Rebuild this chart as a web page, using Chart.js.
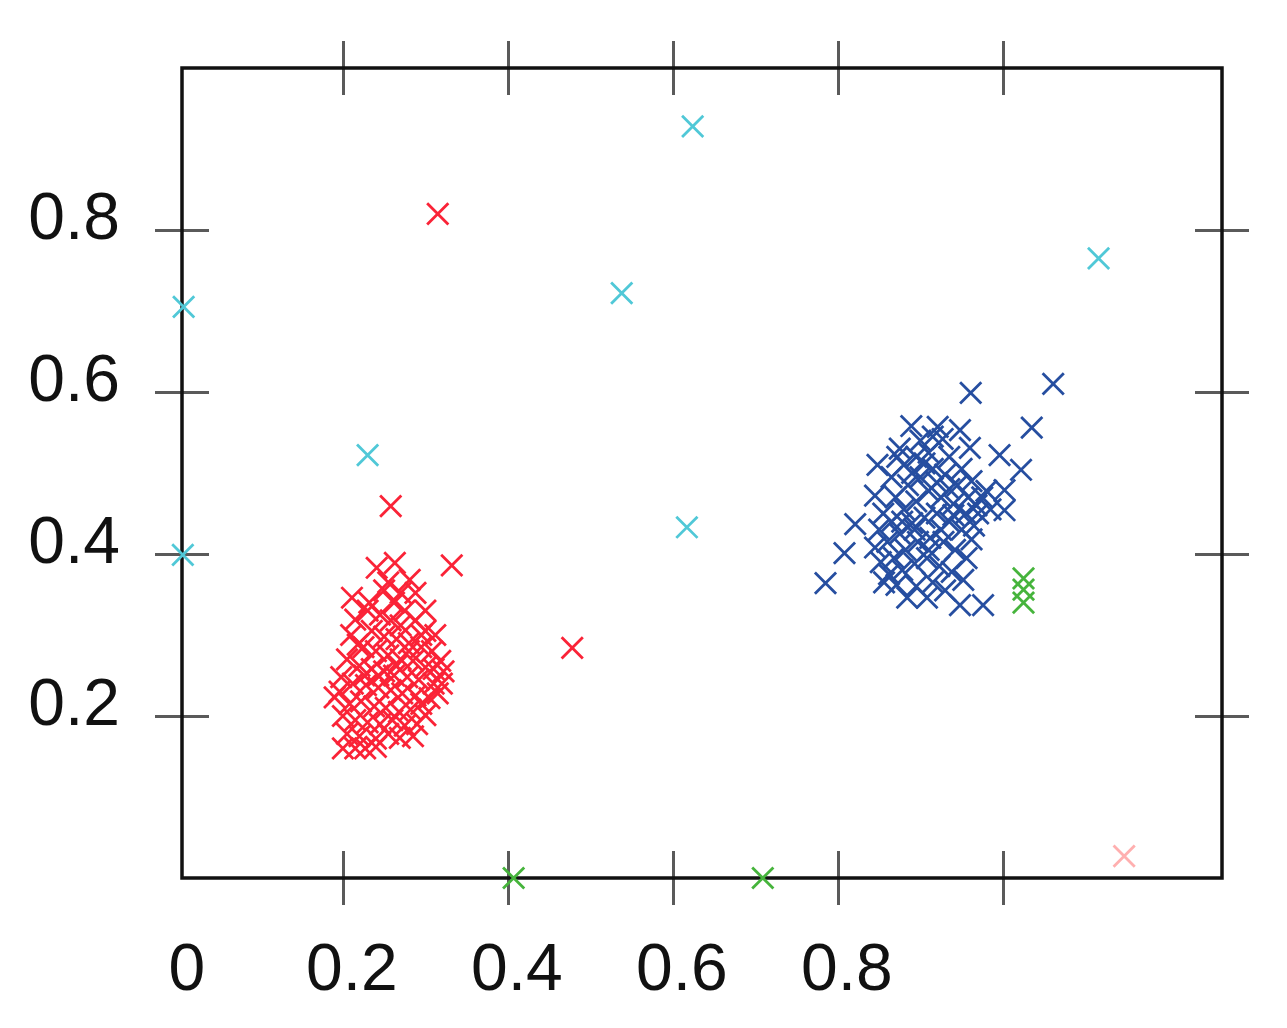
<!DOCTYPE html>
<html>
<head>
<meta charset="utf-8">
<script src="https://cdn.jsdelivr.net/npm/chart.js@4.4.1/dist/chart.umd.min.js"></script>
<style>
html,body{margin:0;padding:0;background:#fff;}
#wrap{width:1287px;height:1028px;}
</style>
</head>
<body>
<div id="wrap"><canvas id="c" width="1287" height="1028"></canvas></div>
<script>
// ---- data ----
const redPoints = [
[0.315,0.820],[0.258,0.459],[0.332,0.386],[0.478,0.284],
[0.211,0.346],[0.241,0.383],[0.263,0.389],[0.281,0.368],[0.215,0.319],[0.218,0.288],
[0.200,0.160],[0.227,0.160],[0.269,0.173],[0.190,0.223],[0.300,0.201],[0.232,0.340],
[0.250,0.355],[0.262,0.340],[0.275,0.330],[0.245,0.325],[0.258,0.318],[0.270,0.312],
[0.288,0.318],[0.300,0.305],[0.312,0.300],[0.235,0.305],[0.250,0.298],[0.265,0.295],
[0.280,0.290],[0.295,0.285],[0.308,0.280],[0.318,0.268],[0.225,0.285],[0.240,0.280],
[0.255,0.275],[0.270,0.270],[0.285,0.268],[0.300,0.260],[0.322,0.255],[0.205,0.270],
[0.220,0.262],[0.235,0.258],[0.250,0.255],[0.262,0.250],[0.278,0.248],[0.292,0.245],
[0.310,0.240],[0.198,0.248],[0.212,0.240],[0.228,0.238],[0.243,0.235],[0.258,0.232],
[0.272,0.228],[0.288,0.225],[0.305,0.222],[0.196,0.230],[0.208,0.215],[0.222,0.218],
[0.238,0.212],[0.252,0.210],[0.268,0.205],[0.282,0.208],[0.295,0.215],[0.315,0.228],
[0.200,0.200],[0.215,0.195],[0.230,0.192],[0.245,0.190],[0.260,0.195],[0.275,0.188],
[0.290,0.190],[0.205,0.178],[0.220,0.175],[0.240,0.172],[0.255,0.178],[0.285,0.175],
[0.215,0.160],[0.240,0.162],[0.230,0.330],[0.255,0.365],[0.270,0.352],[0.243,0.250],
[0.265,0.262],[0.280,0.280],[0.295,0.300],[0.310,0.258],[0.320,0.240],[0.226,0.250],
[0.210,0.300],[0.300,0.330],[0.288,0.352]
];
const bluePoints = [
[0.785,0.364],[0.808,0.401],[0.821,0.437],[0.961,0.599],[1.061,0.610],[1.035,0.556],
[1.022,0.504],[0.996,0.522],[1.002,0.479],[1.002,0.454],[0.948,0.337],[0.976,0.337],
[0.848,0.510],[0.845,0.472],[0.889,0.558],[0.921,0.557],[0.856,0.365],[0.884,0.346],
[0.908,0.346],[0.871,0.362],[0.948,0.553],[0.960,0.531],[0.970,0.450],[0.927,0.542],
[0.900,0.540],[0.875,0.530],[0.865,0.495],[0.880,0.510],[0.895,0.520],[0.910,0.525],
[0.935,0.520],[0.950,0.505],[0.962,0.490],[0.975,0.470],[0.985,0.455],[0.855,0.450],
[0.870,0.470],[0.885,0.485],[0.900,0.495],[0.915,0.505],[0.930,0.498],[0.945,0.485],
[0.958,0.470],[0.968,0.460],[0.850,0.430],[0.865,0.440],[0.880,0.455],[0.895,0.465],
[0.910,0.478],[0.925,0.470],[0.940,0.462],[0.955,0.450],[0.965,0.435],[0.845,0.408],
[0.860,0.415],[0.875,0.425],[0.890,0.438],[0.905,0.445],[0.920,0.450],[0.935,0.440],
[0.950,0.430],[0.962,0.418],[0.852,0.390],[0.868,0.395],[0.882,0.405],[0.897,0.415],
[0.912,0.420],[0.928,0.415],[0.942,0.405],[0.956,0.395],[0.862,0.375],[0.878,0.380],
[0.893,0.388],[0.908,0.395],[0.923,0.385],[0.938,0.378],[0.952,0.368],[0.895,0.360],
[0.915,0.365],[0.930,0.355],[0.890,0.500],[0.905,0.512],[0.920,0.488],[0.935,0.480],
[0.878,0.440],[0.893,0.430],[0.910,0.405],[0.925,0.430],[0.940,0.448],[0.872,0.520],
[0.915,0.545],[0.980,0.478]
];
const cyanPoints = [
[0.624,0.928],[0.538,0.722],[0.007,0.705],[1.116,0.765],[0.230,0.522],[0.006,0.399],[0.617,0.433]
];
const greenPoints = [
[0.407,0.0],[0.709,0.0],[1.025,0.370],[1.025,0.356],[1.025,0.340]
];
const pinkPoints = [
[1.147,0.027]
];
const xTickValues = [0, 0.2, 0.4, 0.6, 0.8, 1.0];
const xTickLabels = ['0', '0.2', '0.4', '0.6', '0.8', ''];
const yTickValues = [0.2, 0.4, 0.6, 0.8];
const yTickLabels = ['0.2', '0.4', '0.6', '0.8'];

// ---- chart ----
const toXY = arr => arr.map(p => ({x: p[0], y: p[1]}));
function ds(points, color) {
  return {
    data: toXY(points),
    pointStyle: 'crossRot',
    pointRadius: 15,
    pointHoverRadius: 15,
    borderColor: color,
    backgroundColor: color,
    pointBorderWidth: 2.8,
    showLine: false,
    clip: false
  };
}

const frame = {
  id: 'frame',
  beforeDatasetsDraw(chart) {
    const {ctx, chartArea: a, scales} = chart;
    ctx.save();
    ctx.strokeStyle = '#5a5a5a';
    ctx.lineWidth = 3;
    const L = 27;
    ctx.beginPath();
    xTickValues.forEach(v => {
      if (v === 0) return;
      const px = Math.round(scales.x.getPixelForValue(v)) + 0.5;
      ctx.moveTo(px, a.top - L); ctx.lineTo(px, a.top + L);
      ctx.moveTo(px, a.bottom - L); ctx.lineTo(px, a.bottom + L);
    });
    yTickValues.forEach(v => {
      const py = Math.round(scales.y.getPixelForValue(v)) + 0.5;
      ctx.moveTo(a.left - L, py); ctx.lineTo(a.left + L, py);
      ctx.moveTo(a.right - L, py); ctx.lineTo(a.right + L, py);
    });
    ctx.stroke();
    ctx.strokeStyle = '#111';
    ctx.lineWidth = 3.5;
    ctx.strokeRect(a.left, a.top, a.right - a.left, a.bottom - a.top);
    ctx.restore();
  }
};

new Chart(document.getElementById('c'), {
  type: 'scatter',
  data: {
    datasets: [
      ds(redPoints, 'rgb(250,35,55)'),
      ds(bluePoints, 'rgb(38,78,160)'),
      ds(cyanPoints, 'rgb(80,200,215)'),
      ds(greenPoints, 'rgb(70,180,60)'),
      ds(pinkPoints, 'rgb(255,175,175)')
    ]
  },
  options: {
    responsive: false,
    animation: false,
    events: [],
    layout: {padding: {top: 68, right: 65, left: 0, bottom: 0}},
    plugins: {legend: {display: false}, tooltip: {enabled: false}},
    scales: {
      x: {
        type: 'linear',
        min: 0.005,
        max: 1.2656,
        border: {display: false},
        grid: {display: false},
        afterBuildTicks: s => { s.ticks = xTickValues.map(v => ({value: v})); },
        afterFit: s => { s.height = 150; s.paddingLeft = 0; s.paddingRight = 0; },
        ticks: {
          autoSkip: false,
          maxRotation: 0,
          padding: 46,
          labelOffset: 9,
          color: '#111',
          font: {family: 'Liberation Sans', size: 66},
          callback: (v, i) => xTickLabels[i]
        }
      },
      y: {
        type: 'linear',
        min: 0,
        max: 1.0,
        border: {display: false},
        grid: {display: false},
        afterBuildTicks: s => { s.ticks = yTickValues.map(v => ({value: v})); },
        afterFit: s => { s.width = 182; s.paddingTop = 0; s.paddingBottom = 0; },
        ticks: {
          autoSkip: false,
          padding: 54,
          labelOffset: -9,
          color: '#111',
          font: {family: 'Liberation Sans', size: 66},
          callback: (v, i) => yTickLabels[i]
        }
      }
    }
  },
  plugins: [frame]
});
</script>
</body>
</html>
